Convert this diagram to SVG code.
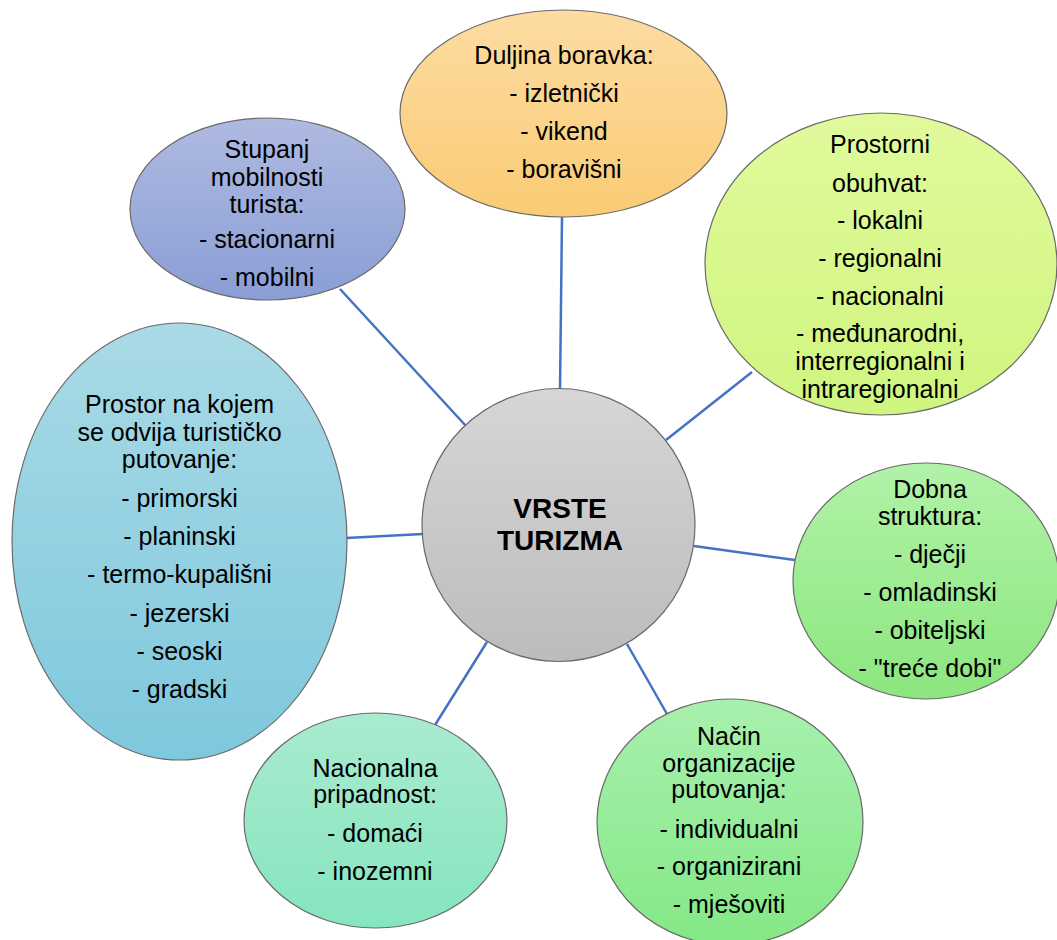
<svg xmlns="http://www.w3.org/2000/svg" width="1057" height="940" viewBox="0 0 1057 940">
<defs>
<linearGradient id="gOrange" x1="0" y1="0" x2="0" y2="1"><stop offset="0" stop-color="#FDDCA2"/><stop offset="1" stop-color="#FACB74"/></linearGradient>
<linearGradient id="gPurple" x1="0" y1="0" x2="0" y2="1"><stop offset="0" stop-color="#AFBAE1"/><stop offset="1" stop-color="#8A9ED5"/></linearGradient>
<linearGradient id="gLime" x1="0" y1="0" x2="0" y2="1"><stop offset="0" stop-color="#E1FA9C"/><stop offset="1" stop-color="#CFF57F"/></linearGradient>
<linearGradient id="gBlue" x1="0" y1="0" x2="0" y2="1"><stop offset="0" stop-color="#AADAE6"/><stop offset="1" stop-color="#7EC8DD"/></linearGradient>
<linearGradient id="gGreen1" x1="0" y1="0" x2="0" y2="1"><stop offset="0" stop-color="#B1F2A8"/><stop offset="1" stop-color="#8CE67F"/></linearGradient>
<linearGradient id="gGreen2" x1="0" y1="0" x2="0" y2="1"><stop offset="0" stop-color="#A8F0AE"/><stop offset="1" stop-color="#84E886"/></linearGradient>
<linearGradient id="gMint" x1="0" y1="0" x2="0" y2="1"><stop offset="0" stop-color="#AAEBD0"/><stop offset="1" stop-color="#85E5BF"/></linearGradient>
<linearGradient id="gGray" x1="0" y1="0" x2="0" y2="1"><stop offset="0" stop-color="#D6D6D6"/><stop offset="1" stop-color="#BCBCBC"/></linearGradient>
</defs>
<style>
.conn line { stroke: #4472C4; stroke-width: 2.5; }
.shape { stroke: #6A6A6A; stroke-width: 1.2; }
text { font-family: "Liberation Sans", Arial, sans-serif; font-size: 25px; fill: #000; text-anchor: middle; }
.title { font-weight: bold; font-size: 28px; }
</style>
<rect width="1057" height="940" fill="#FFFFFF"/>
<g id="connectors" class="conn">
<line x1="562" y1="217" x2="560" y2="390"/>
<line x1="340" y1="289" x2="466" y2="426"/>
<line x1="752" y1="372" x2="666" y2="440"/>
<line x1="346" y1="538" x2="423" y2="534"/>
<line x1="694" y1="546" x2="795" y2="560"/>
<line x1="627" y1="644" x2="667" y2="714"/>
<line x1="487" y1="642" x2="435" y2="725"/>
</g>
<g id="duljina">
<ellipse class="shape" cx="563.5" cy="113.5" rx="163.5" ry="103.5" fill="url(#gOrange)"/>
<text x="564" y="64">Duljina boravka:</text>
<text x="564" y="102">- izletnički</text>
<text x="564" y="140">- vikend</text>
<text x="564" y="178">- boravišni</text>
</g>
<g id="stupanj">
<ellipse class="shape" cx="267.5" cy="209" rx="137.5" ry="91" fill="url(#gPurple)"/>
<text x="267" y="158">Stupanj</text>
<text x="267" y="186">mobilnosti</text>
<text x="267" y="213">turista:</text>
<text x="267" y="248">- stacionarni</text>
<text x="267" y="286">- mobilni</text>
</g>
<g id="prostorni">
<ellipse class="shape" cx="881" cy="264" rx="176" ry="151" fill="url(#gLime)"/>
<text x="880" y="153">Prostorni</text>
<text x="880" y="192">obuhvat:</text>
<text x="880" y="229">- lokalni</text>
<text x="880" y="267">- regionalni</text>
<text x="880" y="305">- nacionalni</text>
<text x="880" y="342">- međunarodni,</text>
<text x="880" y="370">interregionalni i</text>
<text x="880" y="398">intraregionalni</text>
</g>
<g id="prostor">
<ellipse class="shape" cx="179.5" cy="541.5" rx="167.5" ry="218.5" fill="url(#gBlue)"/>
<text x="179.5" y="413">Prostor na kojem</text>
<text x="179.5" y="441">se odvija turističko</text>
<text x="179.5" y="468">putovanje:</text>
<text x="179.5" y="507">- primorski</text>
<text x="179.5" y="545">- planinski</text>
<text x="179.5" y="583">- termo-kupališni</text>
<text x="179.5" y="622">- jezerski</text>
<text x="179.5" y="660">- seoski</text>
<text x="179.5" y="698">- gradski</text>
</g>
<g id="dobna">
<ellipse class="shape" cx="926" cy="581" rx="133" ry="118" fill="url(#gGreen1)"/>
<text x="930" y="498">Dobna</text>
<text x="930" y="525">struktura:</text>
<text x="930" y="563">- dječji</text>
<text x="930" y="601">- omladinski</text>
<text x="930" y="639">- obiteljski</text>
<text x="930" y="677">- "treće dobi"</text>
</g>
<g id="nacin">
<ellipse class="shape" cx="730" cy="822" rx="133" ry="123" fill="url(#gGreen2)"/>
<text x="729" y="745">Način</text>
<text x="729" y="772">organizacije</text>
<text x="729" y="798">putovanja:</text>
<text x="729" y="838">- individualni</text>
<text x="729" y="875">- organizirani</text>
<text x="729" y="913">- mješoviti</text>
</g>
<g id="nacionalna">
<ellipse class="shape" cx="375.5" cy="820.5" rx="131.5" ry="107.5" fill="url(#gMint)"/>
<text x="375" y="777">Nacionalna</text>
<text x="375" y="803">pripadnost:</text>
<text x="375" y="842">- domaći</text>
<text x="375" y="880">- inozemni</text>
</g>
<g id="center">
<circle class="shape" cx="558.5" cy="525" r="136.5" fill="url(#gGray)"/>
<text class="title" x="560" y="518">VRSTE</text>
<text class="title" x="560" y="550">TURIZMA</text>
</g>
</svg>
